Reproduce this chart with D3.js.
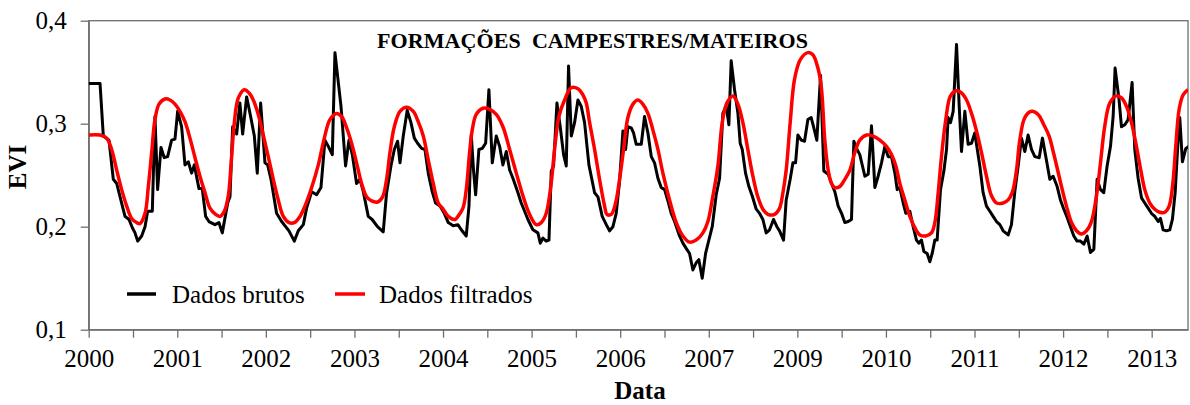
<!DOCTYPE html>
<html>
<head>
<meta charset="utf-8">
<script src="https://cdn.jsdelivr.net/npm/d3@7"></script>
<style>
  html, body { margin: 0; padding: 0; background: #fff; }
  svg { display: block; }
  text { font-family: "Liberation Serif", "Times New Roman", serif; fill: #000; }
</style>
</head>
<body>
<div id="chart"></div>
<script>
// Série EVI - formações campestres/mateiros
// eixo x em anos desde o início da série (o gráfico original pula o rótulo 2008)
const yearLabels = ["2000", "2001", "2002", "2003", "2004", "2005", "2006",
                    "2007", "2009", "2010", "2011", "2012", "2013"];
const yTicks = [0.1, 0.2, 0.3, 0.4];

// dados brutos (vértices da linha preta)
const rawYears = [
  0, 0.128, 0.165, 0.229, 0.278, 0.316, 0.372, 0.41, 0.455, 0.493, 0.523, 0.553, 0.598, 0.636, 0.665, 0.718,
  0.748, 0.778, 0.816, 0.853, 0.891, 0.936, 0.974, 1.004, 1.049, 1.087, 1.125, 1.162, 1.192, 1.245, 1.282,
  1.32, 1.357, 1.425, 1.47, 1.508, 1.569, 1.595, 1.625, 1.67, 1.707, 1.738, 1.783, 1.828, 1.87, 1.903, 1.941,
  1.99, 2.02, 2.058, 2.121, 2.178, 2.261, 2.321, 2.366, 2.423, 2.46, 2.517, 2.573, 2.622, 2.667, 2.705, 2.75,
  2.78, 2.848, 2.9, 2.938, 2.976, 3.024, 3.062, 3.1, 3.156, 3.2, 3.26, 3.325, 3.363, 3.412, 3.45, 3.487, 3.514,
  3.551, 3.596, 3.638, 3.676, 3.713, 3.758, 3.796, 3.833, 3.878, 3.916, 3.965, 4.014, 4.059, 4.115,
  4.168, 4.206, 4.262, 4.293, 4.319, 4.345, 4.368, 4.405, 4.443, 4.481, 4.518, 4.556, 4.601, 4.639, 4.676,
  4.714, 4.752, 4.789, 4.846, 4.883, 4.921, 4.959, 5.015, 5.071, 5.098, 5.128, 5.165, 5.196, 5.222, 5.248,
  5.286, 5.323, 5.361, 5.391, 5.417, 5.448, 5.485, 5.523, 5.56, 5.598, 5.647, 5.711, 5.749, 5.797, 5.843,
  5.88, 5.918, 5.955, 5.993, 6.031, 6.061, 6.087, 6.125, 6.151, 6.181, 6.238, 6.275, 6.313, 6.351, 6.388,
  6.426, 6.463, 6.501, 6.539, 6.576, 6.614, 6.67, 6.708, 6.745, 6.783, 6.821, 6.858, 6.888, 6.926, 6.964,
  7.001, 7.039, 7.084, 7.122, 7.159, 7.197, 7.227, 7.253, 7.291, 7.329, 7.355, 7.378, 7.415, 7.453, 7.49,
  7.536, 7.573, 7.611, 7.648, 7.686, 7.731, 7.769, 7.799, 7.844, 7.874, 7.919, 7.95, 7.98, 8.006, 8.044,
  8.081, 8.119, 8.156, 8.183, 8.22, 8.262, 8.299, 8.348, 8.386, 8.423, 8.461, 8.499, 8.536, 8.574, 8.611,
  8.638, 8.668, 8.705, 8.762, 8.8, 8.837, 8.875, 8.912, 8.95, 8.988, 9.025, 9.063, 9.101, 9.127, 9.157,
  9.195, 9.225, 9.27, 9.307, 9.345, 9.371, 9.401, 9.428, 9.465, 9.496, 9.522, 9.552, 9.578, 9.616, 9.654,
  9.684, 9.702, 9.729, 9.759, 9.797, 9.827, 9.853, 9.891, 9.928, 9.966, 10.003, 10.06, 10.097, 10.135,
  10.173, 10.21, 10.248, 10.286, 10.323, 10.38, 10.417, 10.455, 10.493, 10.53, 10.568, 10.605, 10.643,
  10.681, 10.73, 10.767, 10.805, 10.85, 10.888, 10.933, 10.97, 11.008, 11.046, 11.083, 11.121, 11.158,
  11.196, 11.234, 11.271, 11.309, 11.347, 11.384, 11.422, 11.459, 11.497, 11.535, 11.565, 11.587, 11.632,
  11.659, 11.697, 11.734, 11.779, 11.809, 11.847, 11.885, 11.922, 11.96, 11.997, 12.035, 12.073, 12.099,
  12.129, 12.167, 12.204, 12.234, 12.265, 12.298, 12.317, 12.347, 12.385, 12.423
];
const rawEvi = [
  0.339, 0.339, 0.288, 0.284, 0.246, 0.242, 0.223, 0.21, 0.207, 0.199, 0.194, 0.186, 0.191, 0.2, 0.215, 0.215,
  0.307, 0.236, 0.277, 0.267, 0.268, 0.284, 0.285, 0.312, 0.297, 0.26, 0.263, 0.252, 0.26, 0.237, 0.237,
  0.21, 0.205, 0.202, 0.204, 0.194, 0.223, 0.229, 0.297, 0.29, 0.32, 0.29, 0.326, 0.307, 0.288, 0.252, 0.32,
  0.262, 0.26, 0.246, 0.213, 0.205, 0.196, 0.186, 0.196, 0.202, 0.218, 0.234, 0.231, 0.238, 0.284, 0.278, 0.27,
  0.369, 0.317, 0.259, 0.284, 0.27, 0.242, 0.246, 0.234, 0.21, 0.207, 0.2, 0.195, 0.233, 0.259, 0.275, 0.283, 0.262,
  0.288, 0.313, 0.301, 0.286, 0.281, 0.276, 0.275, 0.252, 0.234, 0.223, 0.22, 0.213, 0.204, 0.201,
  0.202, 0.197, 0.191, 0.22, 0.289, 0.254, 0.231, 0.275, 0.276, 0.281, 0.333, 0.262, 0.288, 0.278, 0.26,
  0.273, 0.255, 0.247, 0.233, 0.223, 0.215, 0.207, 0.197, 0.194, 0.184, 0.189, 0.186, 0.187, 0.254, 0.259,
  0.32, 0.297, 0.27, 0.259, 0.356, 0.288, 0.301, 0.323, 0.317, 0.301, 0.26, 0.233, 0.229, 0.21, 0.202,
  0.196, 0.2, 0.213, 0.244, 0.293, 0.275, 0.297, 0.296, 0.291, 0.28, 0.28, 0.307, 0.291, 0.268, 0.262,
  0.247, 0.238, 0.236, 0.225, 0.213, 0.205, 0.191, 0.184, 0.179, 0.174, 0.158, 0.165, 0.168, 0.15, 0.174,
  0.187, 0.2, 0.231, 0.247, 0.31, 0.317, 0.299, 0.361, 0.333, 0.31, 0.281, 0.275, 0.252, 0.239, 0.23,
  0.217, 0.213, 0.207, 0.194, 0.197, 0.207, 0.2, 0.196, 0.187, 0.226, 0.246, 0.262, 0.262, 0.289, 0.284,
  0.283, 0.304, 0.306, 0.297, 0.284, 0.347, 0.254, 0.251, 0.242, 0.234, 0.22, 0.213, 0.204, 0.205, 0.207,
  0.283, 0.276, 0.27, 0.249, 0.251, 0.298, 0.238, 0.249, 0.262, 0.278, 0.268, 0.268, 0.252, 0.236, 0.238,
  0.223, 0.213, 0.215, 0.2, 0.187, 0.184, 0.187, 0.176, 0.174, 0.166, 0.174, 0.187, 0.187, 0.236, 0.254,
  0.275, 0.306, 0.301, 0.312, 0.377, 0.317, 0.273, 0.312, 0.28, 0.281, 0.291, 0.259, 0.233, 0.22,
  0.215, 0.21, 0.205, 0.202, 0.196, 0.192, 0.202, 0.234, 0.259, 0.286, 0.273, 0.289, 0.275,
  0.268, 0.267, 0.286, 0.268, 0.246, 0.249, 0.239, 0.226, 0.217, 0.209, 0.2, 0.191, 0.186,
  0.186, 0.183, 0.191, 0.175, 0.178, 0.246, 0.236, 0.233, 0.259, 0.278, 0.307, 0.354, 0.323,
  0.297, 0.299, 0.304, 0.34, 0.275, 0.247, 0.228, 0.223, 0.218, 0.213, 0.21, 0.205, 0.208,
  0.197, 0.196, 0.197, 0.207, 0.233, 0.284, 0.306, 0.263, 0.276, 0.278
];

// dados filtrados (linha vermelha suave)
const filtYears = [
  0, 0.128, 0.203, 0.259, 0.316, 0.372, 0.429, 0.485, 0.541, 0.579, 0.636, 0.673, 0.711, 0.748, 0.794, 0.861,
  0.918, 0.974, 1.03, 1.087, 1.143, 1.2, 1.256, 1.313, 1.369, 1.433, 1.482, 1.531, 1.576, 1.606, 1.644, 1.689,
  1.757, 1.809, 1.858, 1.914, 1.971, 2.027, 2.084, 2.14, 2.197, 2.261, 2.321, 2.385, 2.441, 2.517, 2.592,
  2.66, 2.723, 2.799, 2.855, 2.912, 2.968, 3.024, 3.081, 3.137, 3.194, 3.261, 3.318, 3.363, 3.401, 3.45,
  3.514, 3.589, 3.664, 3.72, 3.777, 3.833, 3.89, 3.946, 4.002, 4.059, 4.134,
  4.168, 4.225, 4.262, 4.3, 4.33, 4.375, 4.451, 4.526, 4.601, 4.676, 4.752, 4.827, 4.902, 4.977, 5.053,
  5.109, 5.165, 5.222, 5.259, 5.308, 5.372, 5.448, 5.523, 5.579, 5.617, 5.655, 5.711, 5.767, 5.824, 5.85,
  5.899, 5.948, 5.993, 6.038, 6.087, 6.144, 6.2, 6.256, 6.313, 6.369, 6.426, 6.482, 6.557, 6.633, 6.708,
  6.783, 6.858, 6.934, 6.99, 7.047, 7.103, 7.152, 7.204, 7.272, 7.329, 7.385, 7.441, 7.498, 7.554, 7.611,
  7.667, 7.743, 7.799, 7.837, 7.874, 7.919, 7.968, 8.032, 8.119, 8.175, 8.232, 8.27, 8.31,
  8.348, 8.386, 8.423, 8.48, 8.536, 8.593, 8.649, 8.705, 8.781, 8.856, 8.931, 9.006, 9.063, 9.112, 9.157,
  9.213, 9.27, 9.326, 9.383, 9.45, 9.514, 9.552, 9.59, 9.627, 9.676, 9.729, 9.797, 9.853, 9.91, 9.966,
  10.022, 10.079, 10.135, 10.192, 10.248, 10.323, 10.38, 10.429, 10.474, 10.511, 10.568, 10.643, 10.718,
  10.782, 10.842, 10.888, 10.933, 10.982, 11.038, 11.095, 11.151, 11.207, 11.264, 11.32, 11.377, 11.422,
  11.471, 11.527, 11.602, 11.659, 11.715, 11.772, 11.828, 11.877, 11.922, 11.979, 12.035, 12.092, 12.148,
  12.197, 12.235, 12.272, 12.31, 12.355, 12.411
];
const filtEvi = [
  0.289, 0.289, 0.286, 0.275, 0.255, 0.236, 0.22, 0.208, 0.204, 0.203, 0.213, 0.239, 0.272, 0.304, 0.319, 0.324,
  0.323, 0.319, 0.312, 0.302, 0.286, 0.267, 0.249, 0.233, 0.218, 0.212, 0.21, 0.215, 0.23, 0.259, 0.301, 0.325,
  0.333, 0.33, 0.323, 0.309, 0.289, 0.268, 0.246, 0.226, 0.21, 0.204, 0.204, 0.21, 0.22, 0.238, 0.26,
  0.286, 0.304, 0.31, 0.307, 0.296, 0.281, 0.262, 0.242, 0.229, 0.225, 0.224, 0.229, 0.246, 0.272, 0.297,
  0.312, 0.316, 0.312, 0.302, 0.288, 0.265, 0.242, 0.223, 0.217, 0.21, 0.207,
  0.21, 0.218, 0.236, 0.272, 0.294, 0.309, 0.315, 0.314, 0.309, 0.297, 0.275, 0.252, 0.23, 0.212, 0.202,
  0.204, 0.213, 0.243, 0.275, 0.307, 0.323, 0.335, 0.334, 0.328, 0.32, 0.301, 0.275, 0.246, 0.22, 0.212,
  0.212, 0.223, 0.246, 0.275, 0.306, 0.319, 0.323, 0.319, 0.31, 0.294, 0.275, 0.252, 0.226, 0.204, 0.191,
  0.185, 0.187, 0.194, 0.205, 0.23, 0.259, 0.301, 0.32, 0.327, 0.319, 0.301, 0.275, 0.249, 0.229, 0.217,
  0.212, 0.212, 0.218, 0.233, 0.255, 0.301, 0.343, 0.362, 0.369, 0.367, 0.354, 0.336, 0.284,
  0.255, 0.242, 0.238, 0.239, 0.246, 0.255, 0.272, 0.284, 0.289, 0.288, 0.284, 0.278, 0.27, 0.259, 0.242,
  0.226, 0.21, 0.199, 0.192, 0.191, 0.194, 0.204, 0.233, 0.268, 0.304, 0.327, 0.332, 0.33, 0.323, 0.31,
  0.293, 0.272, 0.249, 0.23, 0.223, 0.223, 0.226, 0.234, 0.255, 0.284, 0.306, 0.312, 0.309,
  0.299, 0.288, 0.273, 0.257, 0.239, 0.22, 0.204, 0.196, 0.193, 0.196, 0.205, 0.23, 0.262,
  0.298, 0.32, 0.327, 0.325, 0.317, 0.301, 0.278, 0.255, 0.236, 0.223, 0.217, 0.214, 0.214,
  0.22, 0.239, 0.278, 0.314, 0.328, 0.333
];

const WIDTH = 1190;
const HEIGHT = 405;
const PLOT = { left: 88.7, right: 1188, top: 20.7, bottom: 329.7 };
const FONT = 25;
const SERIF = '"Liberation Serif", "Times New Roman", serif';

const svg = d3.select("#chart").append("svg")
    .attr("width", WIDTH)
    .attr("height", HEIGHT)
    .style("font-family", SERIF);

const x = d3.scaleLinear().domain([0, 12.41]).range([PLOT.left, PLOT.right]);
const y = d3.scaleLinear().domain([0.1, 0.4]).range([PLOT.bottom, PLOT.top]);

svg.append("clipPath").attr("id", "plot-clip")
  .append("rect")
    .attr("x", PLOT.left).attr("y", PLOT.top)
    .attr("width", PLOT.right - PLOT.left).attr("height", PLOT.bottom - PLOT.top);

// moldura
svg.append("rect")
    .attr("x", PLOT.left).attr("y", PLOT.top)
    .attr("width", PLOT.right - PLOT.left).attr("height", PLOT.bottom - PLOT.top)
    .attr("fill", "none")
    .attr("stroke", "#6e6e6e")
    .attr("stroke-width", 1.3);

// eixo x: marcas a cada meio ano, rótulo nos anos inteiros
const xAxis = d3.axisBottom(x)
    .tickValues(d3.range(0, 12.5, 0.5))
    .tickSize(8)
    .tickSizeOuter(0)
    .tickFormat(d => Number.isInteger(d) ? (yearLabels[d] || "") : "");

const gx = svg.append("g")
    .attr("transform", `translate(0,${PLOT.bottom})`)
    .call(xAxis)
    .attr("font-family", SERIF)
    .attr("font-size", FONT);
gx.select(".domain").attr("stroke", "#6e6e6e").attr("stroke-width", 1.3);
gx.selectAll(".tick line").attr("stroke", "#6e6e6e").attr("stroke-width", 1.3);
gx.selectAll(".tick text")
    .attr("y", 19.5)
    .style("font-family", SERIF)
    .style("font-size", FONT + "px");

// eixo y
const yAxis = d3.axisLeft(y)
    .tickValues(yTicks)
    .tickSize(8)
    .tickSizeOuter(0)
    .tickFormat(d => d3.format(".1f")(d).replace(".", ","));

const gy = svg.append("g")
    .attr("transform", `translate(${PLOT.left},0)`)
    .call(yAxis)
    .attr("font-family", SERIF)
    .attr("font-size", FONT);
gy.select(".domain").attr("stroke", "#6e6e6e").attr("stroke-width", 1.3);
gy.selectAll(".tick line").attr("stroke", "#6e6e6e").attr("stroke-width", 1.3);
gy.selectAll(".tick text")
    .attr("x", -22)
    .style("font-family", SERIF)
    .style("font-size", FONT + "px");

// títulos dos eixos
svg.append("text")
    .attr("transform", `translate(26,167) rotate(-90)`)
    .attr("text-anchor", "middle")
    .style("font-size", FONT + "px")
    .style("font-weight", "bold")
    .text("EVI");

svg.append("text")
    .attr("x", 640).attr("y", 399)
    .attr("text-anchor", "middle")
    .style("font-size", FONT + "px")
    .style("font-weight", "bold")
    .text("Data");

// título interno
svg.append("text")
    .attr("x", 377).attr("y", 48)
    .attr("xml:space", "preserve")
    .attr("textLength", 431)
    .attr("lengthAdjust", "spacing")
    .style("white-space", "pre")
    .style("font-size", "22px")
    .style("font-weight", "bold")
    .text("FORMAÇÕES  CAMPESTRES/MATEIROS");

// séries
const rawData = rawYears.map((t, i) => ({ t, v: rawEvi[i] }));
const filtData = filtYears.map((t, i) => ({ t, v: filtEvi[i] }));

const plot = svg.append("g").attr("clip-path", "url(#plot-clip)");

plot.append("path")
    .datum(rawData)
    .attr("fill", "none")
    .attr("stroke", "#000")
    .attr("stroke-width", 3)
    .attr("stroke-linejoin", "round")
    .attr("d", d3.line().x(d => x(d.t)).y(d => y(d.v)));

plot.append("path")
    .datum(filtData)
    .attr("fill", "none")
    .attr("stroke", "#ff0000")
    .attr("stroke-width", 3.5)
    .attr("stroke-linejoin", "round")
    .attr("d", d3.line().curve(d3.curveCatmullRom.alpha(0.5)).x(d => x(d.t)).y(d => y(d.v)));

// legenda
const legend = [
  { label: "Dados brutos", color: "#000", x1: 127, x2: 156, tx: 172 },
  { label: "Dados filtrados", color: "#ff0000", x1: 335, x2: 365, tx: 379 }
];
const lg = svg.append("g");
legend.forEach(l => {
  lg.append("line")
      .attr("x1", l.x1).attr("x2", l.x2)
      .attr("y1", 294).attr("y2", 294)
      .attr("stroke", l.color)
      .attr("stroke-width", 3.5);
  lg.append("text")
      .attr("x", l.tx).attr("y", 303)
      .style("font-size", FONT + "px")
      .text(l.label);
});
</script>
</body>
</html>
